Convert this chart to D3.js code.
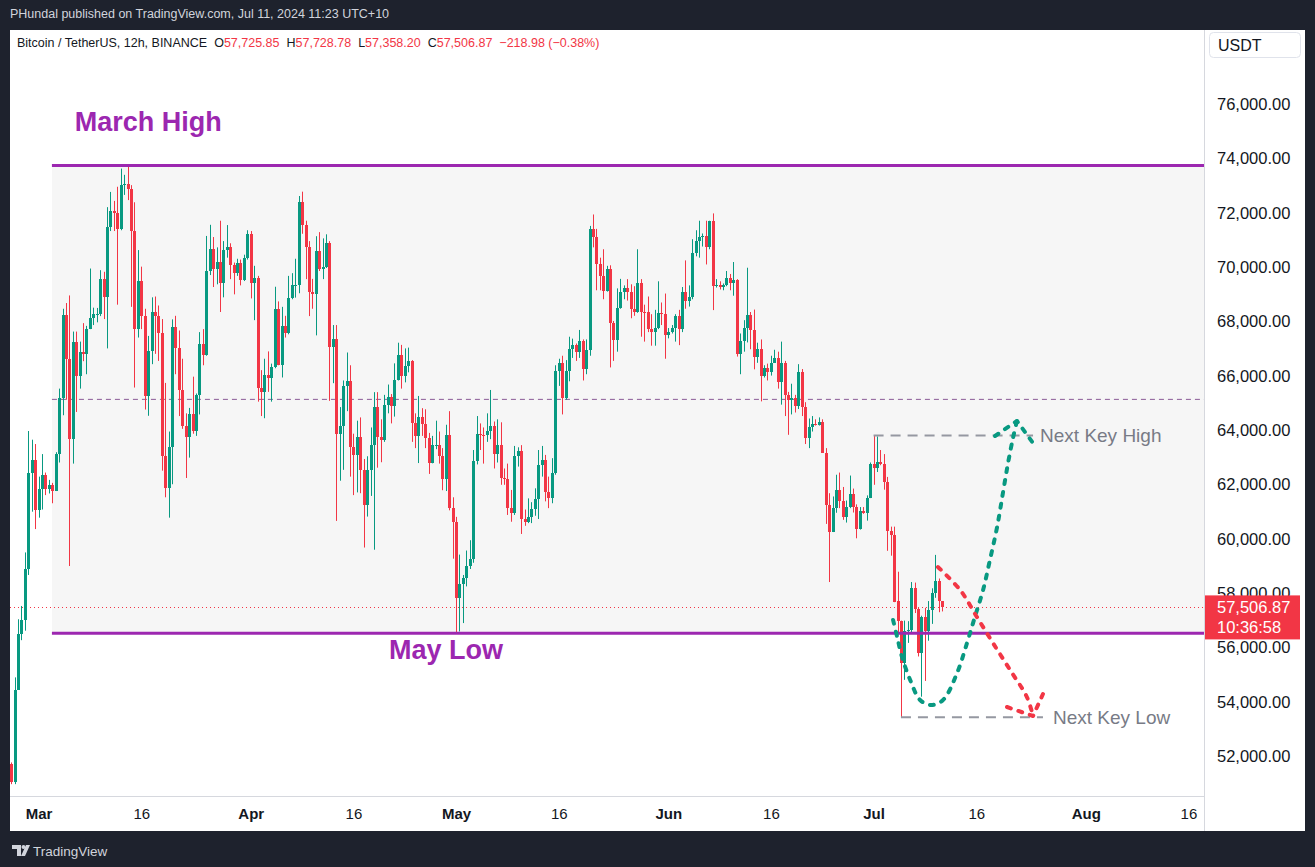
<!DOCTYPE html>
<html>
<head>
<meta charset="utf-8">
<script src="https://cdn.jsdelivr.net/npm/d3@7"></script>
<style>
  body { margin: 0; background: #1e222d; }
  svg text { font-family: "Liberation Sans", Arial, sans-serif; }
</style>
</head>
<body>
<script>
// BTC/USDT 12h candles, Feb 26 2024 00:00 UTC -> Jul 11 2024 00:00 UTC
var opens = [
  51760,51080,54475,56510,57040,58920,62470,62920,61110,61860,
  62390,61860,62020,61790,63150,65210,68270,66660,63720,67290,
  66040,66920,66840,67750,68150,68300,68320,69590,68920,71520,
  72090,72010,71440,73070,73100,72900,71360,67750,69510,68230,
  65270,66960,68390,68230,67590,63070,61910,63400,67820,67040,
  65510,64200,63790,64620,64000,65330,67200,66800,69890,70690,
  69980,70230,69450,70660,70790,70110,69830,70190,69550,70380,
  71260,69450,69650,65600,65450,66070,65940,66360,68500,66430,
  67850,67620,68910,69360,69380,72420,71590,70790,69100,69060,
  70640,69960,70030,70910,67080,67370,63900,64170,65660,65850,
  63400,63100,63780,62570,61260,62570,63480,64880,63780,63670,
  64960,65260,64930,65890,66810,66010,66390,66580,64280,63820,
  64500,64250,63750,62810,63480,63490,63070,62240,63860,61160,
  60660,57870,58350,58580,59030,59300,62890,63900,63870,63850,
  64000,64200,63150,63480,62270,62240,61160,61000,63070,63270,
  60760,60660,60840,61140,61490,62740,62950,61760,61530,62470,
  66210,66510,65230,66210,67020,67170,66890,67320,66270,66990,
  71440,71140,70130,69710,69150,69980,67970,67340,68540,69100,
  69280,69130,68500,68390,69430,68390,68380,67750,67640,67790,
  68350,68320,67520,67640,67790,68230,67750,69100,68770,68920,
  70540,70990,71140,71180,70790,71730,69330,69360,69310,69370,
  69630,69450,69550,66840,67320,67780,68270,67720,66740,67020,
  66010,66310,66190,66510,66690,65790,66510,65330,65150,65210,
  64930,66160,64880,63750,64130,64250,64230,64320,63190,61290,
  60280,61160,61820,61410,60840,61190,61690,61200,60400,61070,
  60980,61540,62780,62640,62860,62800,62120,60330,60170,57740,
  57000,55460,56630,56690,58210,57430,55830,57150,56650,57410,
  58030,58480,57725.85
];
var highs = [
  51800,54930,57070,57560,59530,64000,63680,63520,62320,63150,
  62470,62200,62090,63220,65560,68500,68710,68990,67660,67660,
  67290,67970,67870,69980,68540,68530,69920,69860,72240,72800,
  72470,72990,73660,73430,73777,73050,72420,70660,70050,68500,
  67500,68920,68950,68620,68120,65770,63980,68110,68240,67700,
  66660,64650,64850,66000,65380,67640,67750,71180,71590,71140,
  70760,71740,70990,71580,70910,70200,70340,70310,70490,71390,
  71360,70080,69710,66240,66660,66930,66480,69310,68770,68570,
  68240,69710,69810,70340,72650,72810,71740,70990,69600,71170,
  71320,71090,71240,70990,67900,67900,64880,65860,66890,66420,
  63900,64380,64500,62970,63070,64130,65430,65430,64430,65330,
  65710,65360,66490,67250,67170,67040,67070,66610,64650,65290,
  64840,64800,63930,63820,64380,63980,63370,64230,64730,61560,
  60840,59450,58700,59600,59980,63300,64550,64280,64130,64650,
  65510,64350,64430,64320,62620,62800,61830,63450,63400,63480,
  61110,61520,61380,61890,63300,63450,63120,62320,63000,66420,
  66660,66770,66610,67470,67400,67220,67720,67370,67370,71550,
  71970,71440,70380,70690,70080,70100,68050,69250,69600,69360,
  69590,69400,69330,70690,69590,68650,68950,68300,68460,69510,
  68730,69060,67790,67900,68300,68460,69300,70280,69360,71060,
  71390,71740,71270,71740,71740,72010,69590,69510,69430,69890,
  69780,70220,69590,67590,68080,70010,68380,68470,67250,67370,
  66420,66480,66770,66990,66920,67290,66580,65440,65740,65330,
  66460,66280,65060,64460,64550,64430,64500,64430,63370,61710,
  61590,62390,62470,61940,61440,62360,61880,61300,61200,61200,
  61630,62840,63830,63800,63300,63150,62310,60480,60480,58820,
  57020,57020,57000,58440,58420,57490,57200,57490,57740,58210,
  59440,58570,57728.78
];
var lows = [
  51000,51000,54475,56300,56650,58700,61030,60390,60810,61110,
  61640,61700,61340,61790,62840,64580,65150,59030,62800,64700,
  65560,66570,66090,67750,67900,68000,68230,68120,67040,71360,
  71360,68650,71390,72690,72500,68570,65600,67440,67750,64790,
  64560,66460,66840,66580,62540,61560,60810,62040,66090,64550,
  64080,62270,63020,63900,63820,64610,66420,66770,69740,69300,
  69400,68380,68920,70380,69590,69030,69710,69360,69520,70310,
  68880,68080,65080,64550,64470,65440,65080,66310,66420,65970,
  67440,67560,68850,68910,69070,71260,69590,68230,68500,67520,
  69890,69590,70000,65110,65760,60690,62170,62570,64730,62320,
  61640,61740,61710,59710,60850,61610,59630,62650,62850,63600,
  64650,64280,64530,65860,65560,65790,66160,63600,63370,62820,
  63820,63370,62420,62810,63330,62800,61820,61790,61080,59300,
  56552,56620,56930,58280,58920,59150,62770,63300,62800,63600,
  63700,62620,62840,62020,62020,60910,60660,60910,62690,60210,
  60510,60610,60610,60880,60760,62320,61410,61160,61340,62390,
  65660,64610,65150,65830,66690,66580,66690,65860,66090,66770,
  70760,69180,69180,68850,69130,66340,66580,66920,68500,68850,
  68800,68150,68240,68350,67470,67290,67640,67140,67140,67750,
  67900,66660,67410,67590,67290,67160,67640,68500,68580,68850,
  70430,70380,70790,70130,70690,68450,69280,69210,69180,69330,
  69180,68980,66740,66090,66920,67260,67010,66270,66510,65090,
  65970,65860,66040,66510,65560,64970,64550,63860,64610,64680,
  64810,64550,63520,63370,63980,64200,64200,63190,60580,58440,
  60280,60990,61160,60730,60630,61160,61000,60050,60370,60950,
  60700,61530,62020,62490,62740,61840,59590,59410,57700,56510,
  53460,54840,56200,56600,57300,55700,54220,54800,56280,56900,
  57860,57330,57358.20
];
var closes = [
  51080,54475,56510,57040,58920,62470,62920,61110,61860,62390,
  61860,62020,61790,63150,65210,68270,66660,63720,67290,66040,
  66920,66840,67750,68150,68300,68320,69590,68920,71520,72090,
  72010,71440,73070,73100,72900,71360,67750,69510,68230,65270,
  66960,68390,68230,67590,63070,61910,63400,67820,67040,65510,
  64200,63790,64620,64000,65330,67200,66800,69890,70690,69980,
  70230,69450,70660,70790,70110,69830,70190,69550,70380,71260,
  69450,69650,65600,65450,66070,65940,66360,68500,66430,67850,
  67620,68910,69360,69380,72420,71590,70790,69100,69060,70640,
  69960,70030,70910,67080,67370,63900,64170,65660,65850,63400,
  63100,63780,62570,61260,62570,63480,64880,63780,63670,64960,
  65260,64930,65890,66810,66010,66390,66580,64280,63820,64500,
  64250,63750,62810,63480,63490,63070,62240,63860,61160,60660,
  57870,58350,58580,59030,59300,62890,63900,63870,63850,64000,
  64200,63150,63480,62270,62240,61160,61000,63070,63270,60760,
  60660,60840,61140,61490,62740,62950,61760,61530,62470,66210,
  66510,65230,66210,67020,67170,66890,67320,66270,66990,71440,
  71140,70130,69710,69150,69980,67970,67340,68540,69100,69280,
  69130,68500,68390,69430,68390,68380,67750,67640,67790,68350,
  68320,67520,67640,67790,68230,67750,69100,68770,68920,70540,
  70990,71140,71180,70790,71730,69330,69360,69310,69370,69630,
  69450,69550,66840,67320,67780,68270,67720,66740,67020,66010,
  66310,66190,66510,66690,65790,66510,65330,65150,65210,64930,
  66160,64880,63750,64130,64250,64230,64320,63190,61290,60280,
  61160,61820,61410,60840,61190,61690,61200,60400,61070,60980,
  61540,62780,62640,62860,62800,62120,60330,60170,57700,57000,
  55460,56630,56690,58210,57430,55830,57150,56650,57410,58030,
  58480,57726,57506.87
];

// price axis ticks and time labels
var priceTicks = [52000,54000,56000,58000,60000,62000,64000,66000,68000,70000,72000,74000,76000];
var timeTicks = ["2024-03-01","2024-03-16","2024-04-01","2024-04-16","2024-05-01","2024-05-16",
                 "2024-06-01","2024-06-16","2024-07-01","2024-07-16","2024-08-01","2024-08-16"];

// drawn levels
var marchHigh = 73777;
var mayLow = 56552;

// hand drawn arrows, [candle index, price]
var greenArrow = [[257.7,57043],[258.9,56417],[260.3,55681],[262.7,54834],[265.6,54098],[268.8,53914],
                  [272.3,54098],[276.4,55092],[279.3,56196],[281.6,57153],[284.0,58147],[286.0,59251],
                  [288.1,60466],[289.8,61718],[291.3,62822],[292.8,63779],[293.9,64368]];
var greenHead = [[287.5,63816],[293.9,64368],[298.6,63558]];
var redArrow = [[270.8,58994],[277.3,58147],[282.2,57153],[286.9,56196],[291.9,55202],[296.8,54209],[298.6,53509]];
var redHead = [[291.0,53840],[298.6,53509],[301.5,54319]];

var W = 1315, H = 867;
var plotL = 10, plotR = 1204, plotT = 30, plotB = 796;
var green = "#089981", red = "#f23645", purple = "#9c27b0";

var start = Date.UTC(2024, 1, 26);
var halfDay = 12 * 3600 * 1000;
function tAt(i) { return new Date(start + i * halfDay); }

var x = d3.scaleUtc()
  .domain([tAt(0), new Date(Date.UTC(2024, 7, 16))])
  .range([11.2, 1188.4]);
var y = d3.scaleLinear()
  .domain([52000, 76000])
  .range([757, 105]);

var candles = opens.map(function(o, i) {
  return { t: tAt(i), o: o, h: highs[i], l: lows[i], c: closes[i] };
});
var last = candles[candles.length - 1];

var svg = d3.select("body").append("svg")
  .attr("width", W)
  .attr("height", H);

svg.append("rect").attr("width", W).attr("height", H).attr("fill", "#1e222d");
svg.append("rect")
  .attr("x", 10).attr("y", 30).attr("width", 1295).attr("height", 801)
  .attr("fill", "#ffffff");

svg.append("clipPath").attr("id", "plotclip")
  .append("rect").attr("x", plotL).attr("y", plotT).attr("width", plotR - plotL).attr("height", plotB - plotT);

var plot = svg.append("g").attr("clip-path", "url(#plotclip)");

//range box between march high and may low
var boxLeft = x(tAt(11.9));
plot.append("rect")
  .attr("x", boxLeft)
  .attr("y", y(marchHigh))
  .attr("width", plotR - boxLeft)
  .attr("height", y(mayLow) - y(marchHigh))
  .attr("fill", "#f6f6f6");

plot.append("line")
  .attr("x1", boxLeft).attr("x2", plotR)
  .attr("y1", y((marchHigh + mayLow) / 2)).attr("y2", y((marchHigh + mayLow) / 2))
  .attr("stroke", "#8a5a96").attr("stroke-width", 1).attr("stroke-dasharray", "5,4");

// current price line
plot.append("line")
  .attr("x1", plotL).attr("x2", plotR)
  .attr("y1", Math.round(y(last.c)) + 0.5).attr("y2", Math.round(y(last.c)) + 0.5)
  .attr("stroke", red).attr("stroke-width", 1).attr("stroke-dasharray", "1,3");

//candles
var bars = plot.append("g");
bars.selectAll(".wick")
  .data(candles)
  .enter()
  .append("line")
  .attr("x1", function(d) { return Math.round(x(d.t)) + 0.5; })
  .attr("x2", function(d) { return Math.round(x(d.t)) + 0.5; })
  .attr("y1", function(d) { return y(d.h); })
  .attr("y2", function(d) { return y(d.l); })
  .attr("stroke", function(d) { return d.c >= d.o ? green : red; })
  .attr("stroke-width", 1);

bars.selectAll(".body")
  .data(candles)
  .enter()
  .append("rect")
  .attr("x", function(d) { return Math.round(x(d.t)) - 1; })
  .attr("width", 3)
  .attr("y", function(d) { return y(Math.max(d.o, d.c)); })
  .attr("height", function(d) { return Math.max(1, Math.abs(y(d.o) - y(d.c))); })
  .attr("fill", function(d) { return d.c >= d.o ? green : red; })
  .attr("shape-rendering", "crispEdges");

// purple levels
[marchHigh, mayLow].forEach(function(p) {
  plot.append("line")
    .attr("x1", boxLeft).attr("x2", plotR)
    .attr("y1", y(p)).attr("y2", y(p))
    .attr("stroke", purple).attr("stroke-width", 3);
});

// next key high / low
var keyHigh = d3.max(highs.slice(250, 256));
var keyLow = d3.min(lows.slice(255));
var keyHighI = 250 + d3.maxIndex(highs.slice(250, 256));
var keyLowI = 255 + d3.minIndex(lows.slice(255));

plot.append("line")
  .attr("x1", x(tAt(keyHighI))).attr("x2", x(tAt(298.6)))
  .attr("y1", y(keyHigh)).attr("y2", y(keyHigh))
  .attr("stroke", "#9598a1").attr("stroke-width", 2).attr("stroke-dasharray", "10,7");
plot.append("line")
  .attr("x1", x(tAt(keyLowI))).attr("x2", x(tAt(301.5)))
  .attr("y1", y(keyLow)).attr("y2", y(keyLow))
  .attr("stroke", "#9598a1").attr("stroke-width", 2).attr("stroke-dasharray", "10,7");

var curve = d3.line()
  .x(function(d) { return x(tAt(d[0])); })
  .y(function(d) { return y(d[1]); })
  .curve(d3.curveCatmullRom);
var straight = d3.line()
  .x(function(d) { return x(tAt(d[0])); })
  .y(function(d) { return y(d[1]); });

function dotted(path, col) {
  plot.append("path")
    .attr("d", path)
    .attr("fill", "none")
    .attr("stroke", col)
    .attr("stroke-width", 4)
    .attr("stroke-linecap", "round")
    .attr("stroke-linejoin", "round")
    .attr("stroke-dasharray", "4,8");
}
dotted(curve(greenArrow), green);
dotted(straight(greenHead), green);
dotted(curve(redArrow), red);
dotted(straight(redHead), red);

plot.append("text")
  .text("Next Key High")
  .attr("x", x(tAt(298.6)) + 7)
  .attr("y", y(keyHigh))
  .attr("dominant-baseline", "central")
  .style("font-size", "19px")
  .style("fill", "#787b86");
plot.append("text")
  .text("Next Key Low")
  .attr("x", x(tAt(301.5)) + 10)
  .attr("y", y(keyLow))
  .attr("dominant-baseline", "central")
  .style("font-size", "19px")
  .style("fill", "#787b86");

plot.append("text")
  .text("March High")
  .attr("x", x(tAt(18.6)))
  .attr("y", y(75374))
  .attr("dominant-baseline", "central")
  .style("font-size", "27px")
  .style("font-weight", "bold")
  .style("fill", purple);
plot.append("text")
  .text("May Low")
  .attr("x", x(tAt(110.4)))
  .attr("y", y(55939))
  .attr("dominant-baseline", "central")
  .style("font-size", "27px")
  .style("font-weight", "bold")
  .style("fill", purple);

// separators
svg.append("line")
  .attr("x1", plotR + 0.5).attr("x2", plotR + 0.5).attr("y1", 30).attr("y2", 831)
  .attr("stroke", "#d6d8de");
svg.append("line")
  .attr("x1", 10).attr("x2", plotR).attr("y1", plotB + 0.5).attr("y2", plotB + 0.5)
  .attr("stroke", "#d6d8de");

//price axis
var yAxis = d3.axisRight(y)
  .tickValues(priceTicks)
  .tickSize(0)
  .tickPadding(12)
  .tickFormat(d3.format(",.2f"));
var ya = svg.append("g")
  .attr("transform", "translate(" + (plotR + 1) + ",0)")
  .call(yAxis);
ya.select(".domain").remove();
ya.selectAll("text")
  .attr("dy", "-1.5")
  .attr("dominant-baseline", "central")
  .style("font-size", "16.5px")
  .style("fill", "#131722")
  .style("font-family", "'Liberation Sans', Arial, sans-serif");

//time axis
var xAxis = d3.axisBottom(x)
  .tickValues(timeTicks.map(function(s) { return new Date(s + "T00:00:00Z"); }))
  .tickSize(0)
  .tickPadding(0)
  .tickFormat(function(d) { return d.getUTCDate() == 1 ? d3.utcFormat("%b")(d) : d3.utcFormat("%-d")(d); });
var xa = svg.append("g")
  .attr("transform", "translate(0,813)")
  .call(xAxis);
xa.select(".domain").remove();
xa.selectAll("text")
  .attr("y", 0)
  .attr("dy", null)
  .attr("dominant-baseline", "central")
  .style("font-size", "15px")
  .style("font-weight", function(d) { return d.getUTCDate() == 1 ? "bold" : "normal"; })
  .style("fill", "#131722")
  .style("font-family", "'Liberation Sans', Arial, sans-serif");

// USDT box
svg.append("rect")
  .attr("x", 1209.5).attr("y", 32.5).attr("width", 91).attr("height", 25).attr("rx", 4)
  .attr("fill", "#ffffff").attr("stroke", "#e0e3eb");
svg.append("text")
  .text("USDT")
  .attr("x", 1218).attr("y", 45)
  .attr("dominant-baseline", "central")
  .style("font-size", "16px")
  .style("fill", "#131722");

// last price label
var fmt = d3.format(",.2f");
var ly = y(last.c);
svg.append("rect")
  .attr("x", plotR + 1).attr("y", ly - 12).attr("width", 95).attr("height", 44)
  .attr("fill", red);
svg.append("text")
  .text(fmt(last.c))
  .attr("x", 1217).attr("y", ly)
  .attr("dominant-baseline", "central")
  .style("font-size", "16.5px")
  .style("fill", "#ffffff");
svg.append("text")
  .text("10:36:58")
  .attr("x", 1217).attr("y", ly + 20)
  .attr("dominant-baseline", "central")
  .style("font-size", "16.5px")
  .style("fill", "#ffffff");

// header
svg.append("text")
  .text("PHundal published on TradingView.com, Jul 11, 2024 11:23 UTC+10")
  .attr("x", 10).attr("y", 14)
  .attr("dominant-baseline", "central")
  .style("font-size", "12.5px")
  .style("fill", "#d1d4dc");

var legend = svg.append("text")
  .attr("x", 17).attr("y", 43)
  .attr("dominant-baseline", "central")
  .style("font-size", "12.5px")
  .style("fill", "#131722");
legend.append("tspan").text("Bitcoin / TetherUS, 12h, BINANCE");
var change = last.c - last.o;
[["O", last.o], ["H", last.h], ["L", last.l], ["C", last.c]].forEach(function(p) {
  legend.append("tspan").attr("dx", 7).text(p[0]);
  legend.append("tspan").style("fill", red).text(fmt(p[1]));
});
legend.append("tspan").attr("dx", 7).style("fill", red)
  .text(fmt(change).replace("-", "\u2212") + " (" + d3.format(".2f")(change / last.o * 100).replace("-", "\u2212") + "%)");

// tradingview logo
var logo = svg.append("g").attr("fill", "#d1d4dc");
logo.append("path").attr("d", "M12 845 h9 v11 h-4 v-7 h-5 z");
logo.append("circle").attr("cx", 23.5).attr("cy", 847).attr("r", 2);
logo.append("path").attr("d", "M26 845 h4 l-5 11 h-4 z");
svg.append("text")
  .text("TradingView")
  .attr("x", 33).attr("y", 851)
  .attr("dominant-baseline", "central")
  .style("font-size", "13.5px")
  .style("fill", "#d1d4dc");
</script>
</body>
</html>
